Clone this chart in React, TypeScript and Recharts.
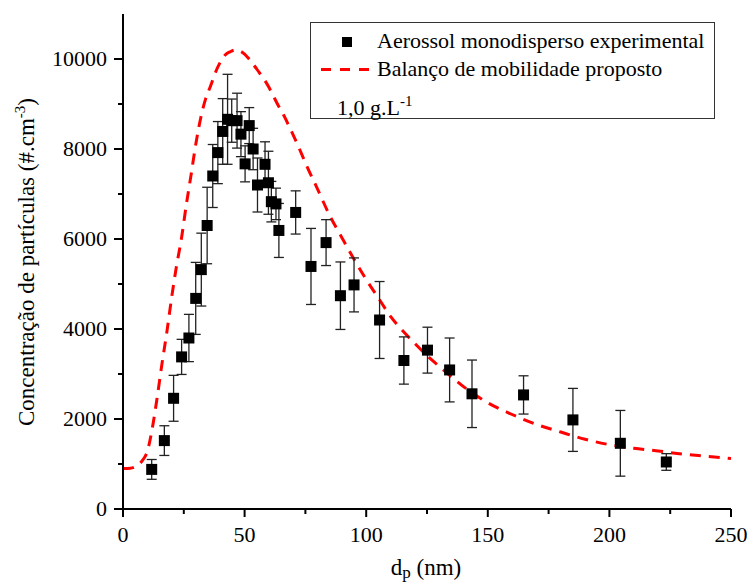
import React from "react";
import {
  ComposedChart,
  Line,
  Scatter,
  ErrorBar,
  XAxis,
  YAxis,
  Legend,
} from "recharts";

/* experimental points: diameter (nm), concentration (#/cm3), error */
const expDp = [
  11.8, 17.0, 20.8, 24.1, 27.1, 29.9, 32.2, 34.6, 36.9, 39.0, 41.0, 43.0, 44.7,
  46.9, 48.5, 50.2, 51.9, 53.5, 55.3, 58.4, 59.8, 61.0, 62.9, 64.1, 71.0, 77.3,
  83.5, 89.4, 95.0, 105.5, 115.5, 125.2, 134.3, 143.5, 164.7, 185.0, 204.5,
  223.4,
];
const expConc = [
  880, 1520, 2460, 3380, 3800, 4680, 5320, 6300, 7400, 7920, 8390, 8660, 8630,
  8630, 8330, 7670, 8520, 8000, 7200, 7660, 7250, 6830, 6780, 6190, 6590, 5390,
  5920, 4740, 4980, 4200, 3300, 3530, 3090, 2560, 2535, 1980, 1460, 1045,
];
const expErr = [
  220, 330, 510, 390, 525, 800, 810, 850, 700, 690, 730, 1000, 480, 610, 500,
  400, 400, 460, 600, 500, 700, 450, 350, 600, 480, 845, 510, 750, 600, 855,
  525, 510, 710, 750, 425, 700, 730, 185,
];

/* proposed mobility balance curve */
const modelDp = [
  0, 3, 6, 8, 10, 12, 14, 16, 18, 20, 22, 24, 26, 28, 30, 32, 34, 36, 38, 40,
  42, 44, 46, 48, 50, 52, 54, 56, 58, 60, 62, 64, 66, 68, 72, 76, 80, 85, 90,
  95, 100, 105, 110, 115, 120, 125, 130, 135, 140, 150, 160, 170, 180, 190, 200,
  210, 220, 230, 240, 250,
];
const modelConc = [
  900, 905, 970, 1080, 1280, 1780, 2460, 3220, 3920, 4700, 5400, 6000, 6750,
  7430, 8130, 8700, 9120, 9400, 9700, 9930, 10090, 10160, 10200, 10180, 10110,
  9990, 9850, 9700, 9550, 9370, 9160, 8950, 8760, 8540, 8070, 7570, 7110, 6520,
  6030, 5550, 5100, 4690, 4280, 3960, 3680, 3410, 3170, 2940, 2720, 2360, 2100,
  1880, 1710, 1550, 1430, 1350, 1290, 1220, 1170, 1120,
];

const xTicks = [0, 25, 50, 75, 100, 125, 150, 175, 200, 225, 250];
const yTicks = [0, 1000, 2000, 3000, 4000, 5000, 6000, 7000, 8000, 9000, 10000];

const expData = expDp.map((dp, i) => ({ dp, y: expConc[i], err: expErr[i] }));
const modelData = modelDp.map((dp, i) => ({ dp, y: modelConc[i] }));

const FONT = "'Liberation Serif', 'Times New Roman', serif";
const txt = { fontFamily: FONT, fill: "#000" };

const BottomTick = (props: any) => {
  const { x, y, payload } = props;
  const major = payload.value % 50 === 0;
  return (
    <g>
      <line x1={x} x2={x} y1={y} y2={y + (major ? 8 : 5)} stroke="#000" strokeWidth={2} />
      {major && (
        <text x={x} y={y + 33} textAnchor="middle" style={{ ...txt, fontSize: 22 }}>
          {payload.value}
        </text>
      )}
    </g>
  );
};

const LeftTick = (props: any) => {
  const { x, y, payload } = props;
  const major = payload.value % 2000 === 0;
  return (
    <g>
      <line x1={x} x2={x - (major ? 9 : 5)} y1={y} y2={y} stroke="#000" strokeWidth={2} />
      {major && (
        <text x={x - 16} y={y + 7} textAnchor="end" style={{ ...txt, fontSize: 22 }}>
          {payload.value}
        </text>
      )}
    </g>
  );
};

const TopTick = (props: any) => {
  const { x, y, payload } = props;
  const major = payload.value % 50 === 0;
  return <line x1={x} x2={x} y1={y} y2={y + (major ? 5 : 3)} stroke="#000" strokeWidth={1.5} />;
};

const RightTick = (props: any) => {
  const { x, y, payload } = props;
  const major = payload.value % 2000 === 0;
  return <line x1={x} x2={x - (major ? 5 : 3)} y1={y} y2={y} stroke="#000" strokeWidth={1.5} />;
};

const Square = (props: any) => {
  const { cx, cy } = props;
  if (cx == null || cy == null) return null;
  return <rect x={cx - 5.5} y={cy - 5.5} width={11} height={11} fill="#000" />;
};

const LegendBox = () => (
  <div
    style={{
      border: "1.5px solid #333",
      width: 405,
      height: 97,
      boxSizing: "border-box",
      fontFamily: FONT,
      fontSize: 22,
      lineHeight: "24px",
      color: "#000",
      position: "relative",
      background: "#fff",
    }}
  >
    <svg width={60} height={60} style={{ position: "absolute", left: 0, top: 0 }}>
      <rect x={31} y={14} width={10} height={10} fill="#000" />
      <line x1={10} x2={60} y1={46.5} y2={46.5} stroke="#ff0000" strokeWidth={3} strokeDasharray="10 9" />
    </svg>
    <div style={{ position: "absolute", left: 66, top: 6, whiteSpace: "nowrap" }}>
      Aerossol monodisperso experimental
    </div>
    <div style={{ position: "absolute", left: 66, top: 34, whiteSpace: "nowrap" }}>
      Balanço de mobilidade proposto
    </div>
    <div style={{ position: "absolute", left: 26, top: 66, whiteSpace: "nowrap" }}>
      1,0 g.L<sup style={{ fontSize: 15, verticalAlign: "9px" }}>-1</sup>
    </div>
  </div>
);

export default function App() {
  return (
    <div style={{ position: "absolute", left: 0, top: 0, background: "#fff" }}>
      <ComposedChart
        width={749}
        height={585}
        margin={{ top: 14, right: 18, bottom: 0, left: 0 }}
      >
        <XAxis
          xAxisId="bottom"
          dataKey="dp"
          type="number"
          domain={[0, 250]}
          ticks={xTicks}
          interval={0}
          height={76}
          tickSize={0}
          tickMargin={0}
          axisLine={{ stroke: "#000", strokeWidth: 2 }}
          tick={<BottomTick />}
        />
        <XAxis
          xAxisId="top"
          orientation="top"
          dataKey="dp"
          type="number"
          domain={[0, 250]}
          ticks={xTicks}
          interval={0}
          height={0}
          tickSize={0}
          tickMargin={0}
          axisLine={{ stroke: "#000", strokeWidth: 2 }}
          tick={<TopTick />}
        />
        <YAxis
          yAxisId="left"
          dataKey="y"
          type="number"
          domain={[0, 11000]}
          ticks={yTicks}
          interval={0}
          width={123}
          tickSize={0}
          tickMargin={0}
          axisLine={{ stroke: "#000", strokeWidth: 2 }}
          tick={<LeftTick />}
        />
        <YAxis
          yAxisId="right"
          orientation="right"
          type="number"
          domain={[0, 11000]}
          ticks={yTicks}
          interval={0}
          width={0}
          tickSize={0}
          tickMargin={0}
          axisLine={{ stroke: "#000", strokeWidth: 2 }}
          tick={<RightTick />}
        />
        <Line
          xAxisId="bottom"
          yAxisId="left"
          data={modelData}
          dataKey="y"
          type="monotone"
          stroke="#ff0000"
          strokeWidth={3}
          strokeDasharray="11 8"
          dot={false}
          isAnimationActive={false}
        />
        <Scatter
          xAxisId="bottom"
          yAxisId="left"
          data={expData}
          dataKey="y"
          shape={<Square />}
          isAnimationActive={false}
        >
          <ErrorBar dataKey="err" direction="y" width={5} stroke="#222" strokeWidth={1.3} />
        </Scatter>
        <Legend
          layout="vertical"
          verticalAlign="middle"
          align="center"
          wrapperStyle={{ position: "absolute", left: 310, top: 22, width: 405, height: 97 }}
          content={() => <LegendBox />}
        />
        <text
          transform="translate(34 262) rotate(-90)"
          textAnchor="middle"
          style={{ ...txt, fontSize: 23 }}
        >
          Concentração de partículas (#.cm
          <tspan dy={-9} style={{ fontSize: 15 }}>-3</tspan>
          <tspan dy={9}>)</tspan>
        </text>
        <text x={426} y={575} textAnchor="middle" style={{ ...txt, fontSize: 23 }}>
          d<tspan dy={3} style={{ fontSize: 17 }}>p</tspan>
          <tspan dy={-3}> (nm)</tspan>
        </text>
      </ComposedChart>
    </div>
  );
}
